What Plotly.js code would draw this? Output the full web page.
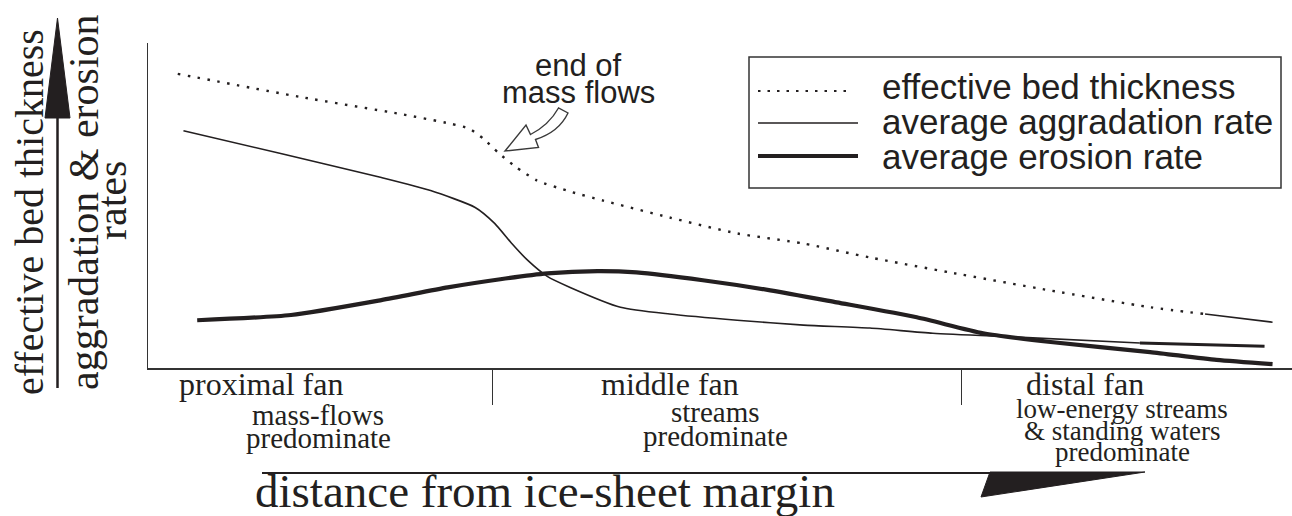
<!DOCTYPE html>
<html>
<head>
<meta charset="utf-8">
<script src="https://cdn.plot.ly/plotly-3.0.1.min.js"></script>
<style>html,body{margin:0;padding:0;background:#fff;}#chart{width:1292px;height:516px;}</style>
</head>
<body>
<div id="chart"></div>
<script>
// ---------------- data (schematic, relative units 0-100) ----------------
var seriesNames = ['effective bed thickness', 'average aggradation rate', 'average erosion rate'];

var bedX = [2.6, 13.3, 22.0, 26.4, 28.1, 29.3, 30.6, 32.1, 34.0, 36.9, 39.8, 45.6, 51.5, 57.3, 63.1, 70.1, 78.8, 87.6, 92.4, 98.3];
var bedY = [90.5, 83.4, 78.2, 75.2, 73.6, 70.6, 66.3, 62.0, 57.7, 54.3, 51.5, 46.3, 41.4, 38.3, 34.0, 29.4, 23.9, 18.7, 16.6, 14.1];

var aggX = [3.1, 11.6, 20.4, 24.7, 28.6, 30.3, 31.8, 33.2, 34.9, 36.9, 41.3, 45.6, 51.5, 57.3, 63.1, 68.6, 76.0, 86.7, 97.6];
var aggY = [73.0, 66.0, 58.6, 54.6, 49.4, 44.5, 38.3, 33.1, 28.2, 24.8, 18.7, 16.6, 14.7, 13.2, 12.3, 10.7, 9.5, 7.7, 6.7];

var eroX = [4.3, 12.5, 20.4, 26.2, 30.8, 34.9, 39.3, 42.7, 48.5, 54.4, 60.2, 67.2, 73.0, 78.9, 87.6, 93.4, 98.3];
var eroY = [14.7, 16.3, 20.9, 24.8, 27.3, 29.1, 29.8, 29.4, 27.0, 23.9, 20.2, 15.6, 10.7, 8.0, 4.9, 2.5, 1.2];

var zoneBounds = [30.1, 71.1];
var zoneNames = ['proximal fan', 'middle fan', 'distal fan'];
var zoneNotes = [['mass-flows', 'predominate'], ['streams', 'predominate'], ['low-energy streams', '& standing waters', 'predominate']];
var yTitleLines = ['effective bed thickness', 'aggradation & erosion', 'rates'];
var xTitle = 'distance from ice-sheet margin';
var markText = ['end of', 'mass flows'];

// ---------------- geometry helpers ----------------
var W = 1292, H = 516, ML = 148, MT = 43, MB = 148, MR = 0;
var plotW = W - ML - MR, plotH = H - MT - MB;
function PX(px) { return (px - ML) / plotW; }
function PY(py) { return (H - MB - py) / plotH; }
function P(px, py) { return PX(px).toFixed(5) + ',' + PY(py).toFixed(5); }

var INK = '#231f20';
var SERIF = 'Liberation Serif';
var SANS = 'Liberation Sans';

// ---------------- traces ----------------
var nb = bedX.length, na = aggX.length;
var traces = [
  { x: bedX.slice(0, nb - 1), y: bedY.slice(0, nb - 1), name: seriesNames[0], mode: 'lines',
    line: { color: INK, width: 2.4, dash: '2.5px,7.5px', shape: 'spline', smoothing: 0.6 }, showlegend: false, hoverinfo: 'skip' },
  { x: bedX.slice(nb - 2), y: bedY.slice(nb - 2), name: seriesNames[0], mode: 'lines',
    line: { color: INK, width: 1.6 }, showlegend: false, hoverinfo: 'skip' },
  { x: aggX.slice(0, na - 1), y: aggY.slice(0, na - 1), name: seriesNames[1], mode: 'lines',
    line: { color: INK, width: 1.6, shape: 'spline', smoothing: 0.6 }, showlegend: false, hoverinfo: 'skip' },
  { x: aggX.slice(na - 2), y: aggY.slice(na - 2), name: seriesNames[1], mode: 'lines',
    line: { color: INK, width: 3 }, showlegend: false, hoverinfo: 'skip' },
  { x: eroX, y: eroY, name: seriesNames[2], mode: 'lines',
    line: { color: INK, width: 4.2, shape: 'spline', smoothing: 0.6 }, showlegend: false, hoverinfo: 'skip' }
];

// ---------------- shapes ----------------
var shapes = [];
function pline(x0, y0, x1, y1, w, dash) {
  shapes.push({ type: 'line', xref: 'paper', yref: 'paper', x0: PX(x0), y0: PY(y0), x1: PX(x1), y1: PY(y1),
    line: { color: INK, width: w, dash: dash || 'solid' } });
}
function ppath(d, fill, lineW, lineC) {
  shapes.push({ type: 'path', xref: 'paper', yref: 'paper', path: d, fillcolor: fill,
    line: { color: lineC || INK, width: lineW } });
}
// legend box and samples
shapes.push({ type: 'rect', xref: 'paper', yref: 'paper', x0: PX(749), y0: PY(57), x1: PX(1281), y1: PY(188),
  line: { color: '#333', width: 1.5 }, fillcolor: 'rgba(0,0,0,0)' });
pline(758, 91, 852, 91, 2.2, '2.5px,7px');
pline(758, 123, 858, 123, 1.6);
pline(758, 156, 858, 156, 4.2);
// vertical arrow (y axis direction)
pline(57.5, 388, 57.5, 116, 2.5);
ppath('M' + P(45, 118) + ' L' + P(70, 118) + ' L' + P(57.5, 18) + ' Z', INK, 1);
// horizontal arrow (distance direction)
pline(262, 473, 995, 473, 2.2);
ppath('M' + P(990, 472) + ' L' + P(1145, 472) + ' L' + P(981, 497) + ' Z', INK, 1);
// hollow arrow pointing at end of mass flows
ppath('M' + P(505, 151) + ' L' + P(526, 125) + ' L' + P(530.5, 134.5) +
      ' Q' + P(549, 125) + ' ' + P(558.5, 108) + ' L' + P(568, 113) +
      ' Q' + P(559, 132) + ' ' + P(535.5, 139.5) + ' L' + P(538.5, 147.5) + ' Z', '#ffffff', 1.4, '#3a3a3a');

// ---------------- annotations ----------------
var annotations = [];
function ann(text, px, py, fs, family, extra) {
  var a = { text: text, xref: 'paper', yref: 'paper', x: PX(px), y: PY(py), showarrow: false,
    xanchor: 'center', yanchor: 'middle', font: { family: family, size: fs, color: INK } };
  if (extra) { for (var k in extra) a[k] = extra[k]; }
  annotations.push(a);
}
// y titles (rotated)
ann(yTitleLines[0], 29, 212, 40, SERIF, { textangle: -90 });
ann(yTitleLines[1], 84, 202, 42, SERIF, { textangle: -90 });
ann(yTitleLines[2], 112, 201, 42, SERIF, { textangle: -90 });
// x title
ann(xTitle, 545, 491, 47, SERIF);
// zones
var zoneHeadX = [261, 670, 1085];
var zoneNoteX = [318, 715, 1122];
var zoneNoteY = [[415, 438], [412, 436], [409, 431, 452]];
var zoneNoteFs = [29, 29, 27];
for (var i = 0; i < zoneNames.length; i++) {
  ann(zoneNames[i], zoneHeadX[i], 384, 32, SERIF);
  for (var j = 0; j < zoneNotes[i].length; j++) {
    ann(zoneNotes[i][j], zoneNoteX[i], zoneNoteY[i][j], zoneNoteFs[i], SERIF);
  }
}
// legend texts
var legY = [86, 121, 156];
for (var s = 0; s < seriesNames.length; s++) {
  ann(seriesNames[s], 880, legY[s], 35, SANS, { xanchor: 'left' });
}
// end of mass flows
ann(markText[0], 578, 65, 31, SANS);
ann(markText[1], 578, 92, 31, SANS);

// ---------------- layout ----------------
var layout = {
  width: W, height: H,
  margin: { l: ML, r: MR, t: MT, b: MB, pad: 0 },
  paper_bgcolor: '#ffffff', plot_bgcolor: '#ffffff',
  showlegend: false,
  xaxis: { range: [0, 100], showgrid: false, zeroline: false, showline: true, linecolor: '#333', linewidth: 2,
    tickmode: 'array', tickvals: zoneBounds, ticks: 'outside', ticklen: 35, tickwidth: 1.5, tickcolor: '#333',
    showticklabels: false, fixedrange: true },
  yaxis: { range: [0, 100], showgrid: false, zeroline: false, showline: true, linecolor: '#333', linewidth: 1.5,
    ticks: '', showticklabels: false, fixedrange: true },
  shapes: shapes,
  annotations: annotations
};

Plotly.newPlot('chart', traces, layout, { displayModeBar: false, staticPlot: true });
</script>
</body>
</html>
